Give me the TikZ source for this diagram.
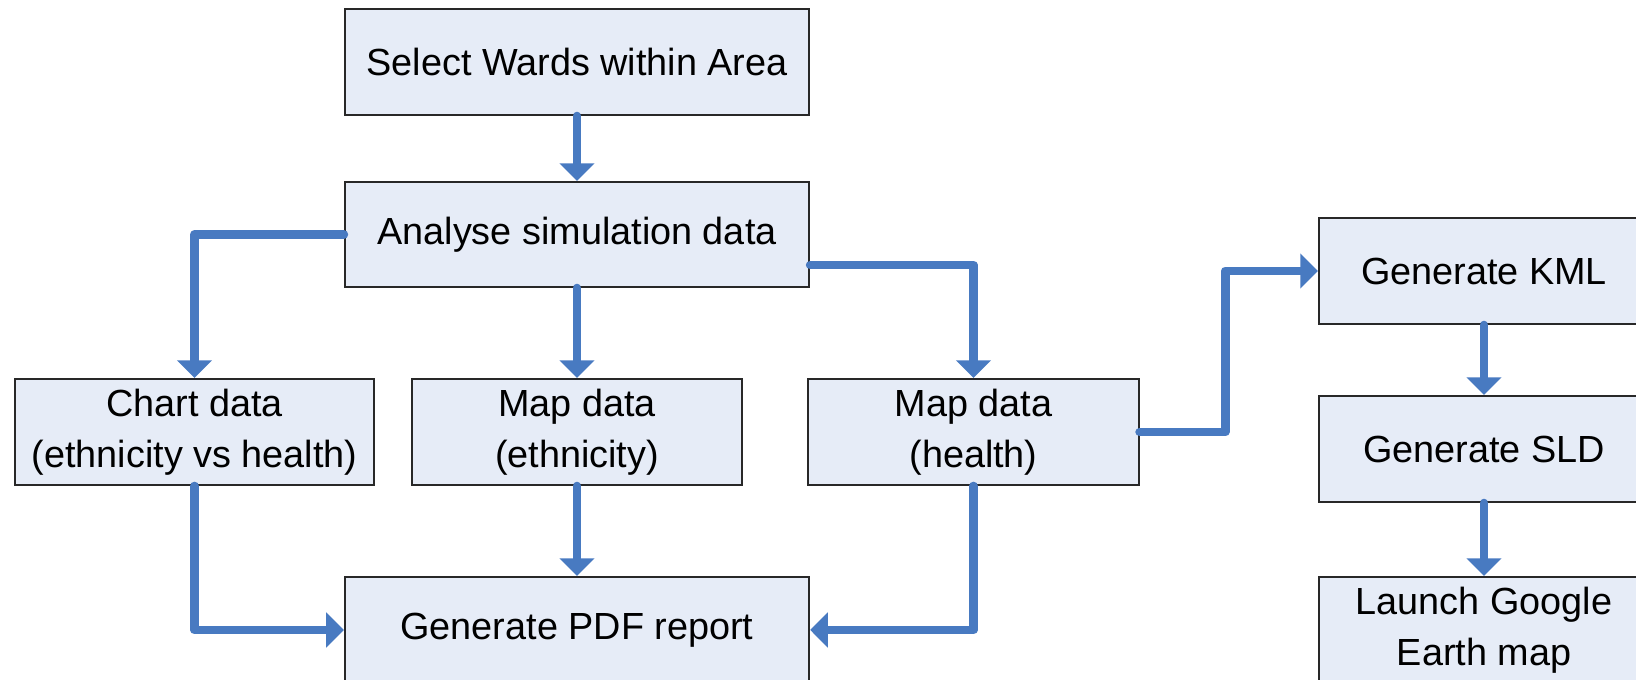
\documentclass[tikz,border=0pt]{standalone}
\usepackage{fontspec}
\setmainfont{Liberation Sans}
\usetikzlibrary{arrows.meta}
\definecolor{flowblue}{RGB}{72,122,193}
\definecolor{boxfill}{RGB}{230,236,247}
\definecolor{boxline}{RGB}{40,40,40}
\tikzset{
  box/.style={draw=boxline, line width=0.6pt, fill=boxfill, align=center,
    inner sep=0pt, font=\fontsize{10.75}{14.5}\selectfont},
  wbox/.style={box, minimum width=4.64cm, minimum height=1.06cm},
  nbox/.style={box, minimum width=3.30cm, minimum height=1.06cm},
  cbox/.style={box, minimum width=3.59cm, minimum height=1.06cm},
  arr/.style={draw=flowblue, line width=2.5pt, line cap=round, line join=round,
    -{Triangle[width=9.7pt,length=5pt]}}
}
\begin{document}
\begin{tikzpicture}[x=0.01cm,y=-0.01cm]
\useasboundingbox (0,0) rectangle (1636,680);
\clip (0,0) rectangle (1636,680);
\node[wbox] (sel) at (577,62) {Select Wards within Area};
\node[wbox, minimum height=1.05cm] (ana) at (577,234.5) {Analyse simulation data};
\node[cbox] (chart) at (194.5,432) {Chart data\\(ethnicity vs health)};
\node[nbox] (meth) at (577,432) {Map data\\(ethnicity)};
\node[nbox] (mhealth) at (973.5,432) {Map data\\(health)};
\node[wbox] (pdf) at (577,630) {Generate PDF report};
\node[nbox] (kml) at (1484,271) {Generate KML};
\node[nbox] (sld) at (1484,449) {Generate SLD};
\node[nbox] (launch) at (1484,630) {Launch Google\\Earth map};

\draw[arr] (sel.south) -- (ana.north);
\draw[arr] (ana.west) -| (chart.north);
\draw[arr] (ana.south) -- (meth.north);
\draw[arr] ([yshift=-0.305cm]ana.east) -| (mhealth.north);
\draw[arr] (chart.south) |- (pdf.west);
\draw[arr] (meth.south) -- (pdf.north);
\draw[arr] (mhealth.south) |- (pdf.east);
\draw[arr] (mhealth.east) -- ++(85.5,0) |- (kml.west);
\draw[arr] (kml.south) -- (sld.north);
\draw[arr] (sld.south) -- (launch.north);
\end{tikzpicture}
\end{document}
